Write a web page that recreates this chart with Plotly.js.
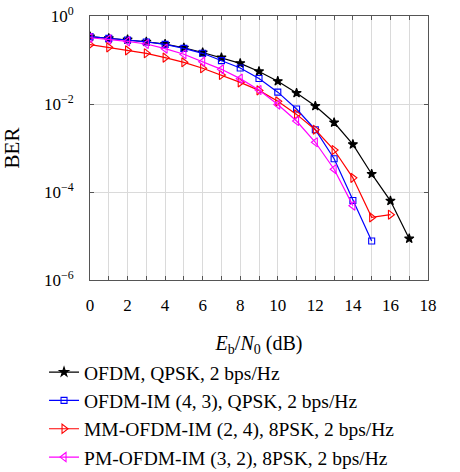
<!DOCTYPE html>
<html>
<head>
<meta charset="utf-8">
<script src="https://cdn.plot.ly/plotly-3.0.1.min.js"></script>
<style>html,body{margin:0;padding:0;background:#fff;}#chart{width:460px;height:472px;}</style>
</head>
<body>
<div id="chart"></div>
<script>
const snrOFDM = [0,1,2,3,4,5,6,7,8,9,10,11,12,13,14,15,16,17];
const berOFDM = [0.34,0.31,0.29,0.26,0.23,0.19,0.148,0.113,0.084,0.055,0.033,0.0178,0.009,0.0038,0.00121,0.000257,0.000063,0.0000087];

const snrIM = [0,1,2,3,4,5,6,7,8,9,10,11,12,13,14,15];
const berIM = [0.34,0.31,0.285,0.257,0.227,0.184,0.142,0.097,0.066,0.038,0.0186,0.0077,0.0026,0.00057,0.000064,0.0000077];

const snrMM = [0,1,2,3,4,5,6,7,8,9,10,11,12,13,14,15,16];
const berMM = [0.223,0.194,0.166,0.142,0.113,0.0886,0.0648,0.0457,0.031,0.0204,0.0115,0.0058,0.0026,0.0009,0.00021,0.0000265,0.0000305];

const snrPM = [0,1,2,3,4,5,6,7,8,9,10,11,12,13,14];
const berPM = [0.32,0.295,0.265,0.231,0.181,0.135,0.0916,0.0614,0.0377,0.0208,0.0097,0.0041,0.00135,0.00033,0.000049];

const names = [
  "OFDM, QPSK, 2 bps/Hz",
  "OFDM-IM (4, 3), QPSK, 2 bps/Hz",
  "MM-OFDM-IM (2, 4), 8PSK, 2 bps/Hz",
  "PM-OFDM-IM (3, 2), 8PSK, 2 bps/Hz"
];

const yTickVals = [1, 1e-2, 1e-4, 1e-6];
const yTickText = ["10<sup>0</sup>", "10<sup>\u22122</sup>", "10<sup>\u22124</sup>", "10<sup>\u22126</sup>"];

const font = "Liberation Serif, serif";

function tr(x, y, name, color, symbol, size) {
  return {x: x, y: y, name: name, type: "scatter", mode: "lines+markers",
    line: {color: color, width: 1.2},
    marker: {symbol: symbol, size: size, color: color, line: {color: color, width: 1.1}}};
}

const data = [
  tr(snrOFDM, berOFDM, names[0], "#000000", "star", 7),
  tr(snrIM, berIM, names[1], "#0000ff", "square-open", 6),
  tr(snrMM, berMM, names[2], "#ff0000", "triangle-right-open", 8),
  tr(snrPM, berPM, names[3], "#ff00ff", "triangle-left-open", 8)
];

const layout = {
  width: 460, height: 472,
  margin: {l: 90, r: 32, t: 16, b: 192, autoexpand: false},
  paper_bgcolor: "#fff", plot_bgcolor: "#fff",
  font: {family: font, size: 17, color: "#000"},
  showlegend: true,
  legend: {x: -0.136, y: -0.276, xanchor: "left", yanchor: "top",
    font: {family: font, size: 19.5, color: "#000"}, tracegroupgap: 0,
    bgcolor: "rgba(0,0,0,0)", itemwidth: 30},
  xaxis: {range: [0, 18], dtick: 2, tick0: 0, showgrid: true, gridcolor: "#dadada", gridwidth: 1,
    minor: {dtick: 1, showgrid: true, gridcolor: "#dadada", ticks: "inside", ticklen: 4, tickcolor: "#555"},
    ticks: "inside", ticklen: 4, tickcolor: "#555", ticklabelstandoff: 10,
    showline: true, linecolor: "#555", linewidth: 1, mirror: "ticks", zeroline: false,
    tickfont: {family: font, size: 17},
    title: {text: "<i>E</i><sub>b</sub>/<i>N</i><sub>0</sub> (dB)", font: {family: font, size: 20}}},
  yaxis: {type: "log", range: [-6, 0], tickmode: "array", tickvals: yTickVals, ticktext: yTickText,
    showgrid: true, gridcolor: "#dadada", gridwidth: 1, automargin: false,
    ticks: "inside", ticklen: 4, tickcolor: "#555", ticklabelstandoff: 12,
    showline: true, linecolor: "#555", linewidth: 1, mirror: "ticks", zeroline: false,
    tickfont: {family: font, size: 17},
    title: {text: "BER", font: {family: font, size: 21}, standoff: 20}}
};

Plotly.newPlot("chart", data, layout, {displayModeBar: false, staticPlot: true});
</script>
</body>
</html>
